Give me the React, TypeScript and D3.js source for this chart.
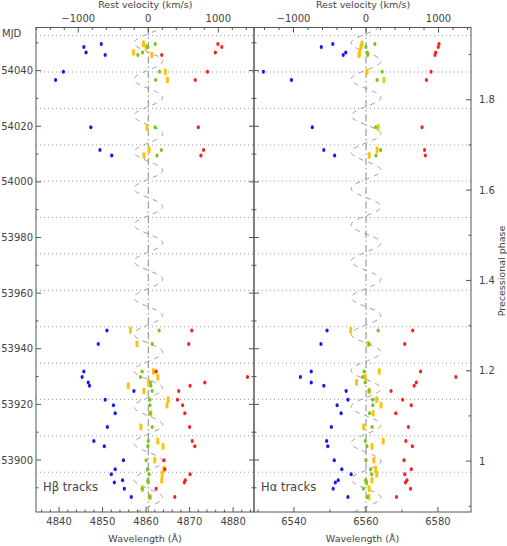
import * as d3 from 'd3';

// spectra epochs (MJD), newest first
const epochs = [54049.6, 54048.5, 54046.5, 54045.6, 54039.6, 54036.6, 54019.6, 54011.5, 54009.5,
  53946.6, 53941.7, 53931.8, 53929.8, 53927.9, 53926.7, 53924.8, 53921.7, 53919.7, 53916.8,
  53911.9, 53906.8, 53904.9, 53899.9, 53896.7, 53894.9, 53892.7, 53891.9, 53889.7, 53886.7];

// H-beta line components (wavelength, Angstrom)
const hbBlue = [4849.7, 4845.7, 4846.2, 4850.6, 4841.0, 4839.2, 4847.3, 4849.4, 4852.1,
  4851.0, 4849.0, 4845.7, 4845.3, 4846.7, 4847.0, 4857.2, 4850.6, 4852.5, 4852.9,
  4851.1, 4848.0, 4850.4, 4854.8, 4852.9, 4852.0, 4854.6, 4852.7, 4855.0, 4856.6];
const hbYellow = [4859.4, 4860.0, 4857.1, 4861.3, 4864.4, 4864.9, 4860.2, 4860.7, 4859.5,
  4856.4, 4857.9, 4861.7, 4862.7, 4860.6, 4855.9, 4859.5, 4865.1, 4864.8, 4861.1,
  4858.8, 4862.7, 4863.9, 4862.0, 4864.1, 4863.7, 4863.6, null, 4859.2, 4860.9];
const hbGreen = [4862.1, 4860.4, 4859.2, 4858.1, 4863.1, 4862.2, 4862.1, 4863.5, 4862.5,
  4863.0, 4861.4, 4859.1, 4858.7, 4861.0, 4861.1, 4861.4, 4860.9, 4860.9, 4860.9,
  4861.4, 4860.5, 4860.4, 4860.0, 4860.3, 4860.7, 4860.4, 4860.5, 4859.1, 4860.9];
const hbRed = [4876.5, 4877.4, 4875.9, 4863.6, 4874.1, 4871.3, 4872.0, 4873.2, 4872.6,
  4870.5, 4869.8, 4862.3, 4883.3, 4873.5, 4870.1, 4867.5, 4867.2, 4868.4, 4868.9,
  4870.0, 4870.6, 4871.2, 4864.1, 4864.3, 4870.1, 4869.0, 4868.8, 4862.3, 4866.6];

// H-alpha line components
const haBlue = [6550.8, 6547.6, 6554.4, 6553.7, 6531.5, 6539.3, 6545.1, 6548.3, 6551.3,
  6549.2, 6547.5, 6544.8, 6541.8, 6544.8, 6548.3, 6554.5, 6555.0, 6552.0, 6553.1,
  6550.4, 6549.1, 6549.4, 6551.2, 6553.3, 6555.9, 6552.3, 6551.5, 6550.9, 6555.0];
const haYellow = [6558.9, 6558.6, 6558.3, 6558.1, 6560.3, 6565.0, 6563.4, 6563.1, 6560.9,
  6555.8, 6560.6, 6563.7, 6559.8, 6557.4, null, 6560.9, 6563.0, 6564.2, 6562.0,
  6559.4, 6564.8, 6561.7, 6562.2, 6562.7, 6563.0, 6561.7, 6560.2, 6560.9, 6560.8];
const haGreen = [6562.5, 6560.0, 6560.4, 6560.5, 6564.5, 6563.1, 6562.7, 6564.1, 6562.8,
  6563.4, 6560.9, 6559.5, 6559.1, 6559.8, null, 6560.9, 6561.9, 6561.9, 6561.0,
  6561.7, 6559.8, 6560.3, 6560.0, 6561.3, 6561.6, 6559.9, 6560.1, 6559.3, 6560.4];
const haRed = [6580.3, 6580.1, 6579.4, 6579.2, 6578.1, 6576.8, 6575.6, 6576.3, 6576.5,
  6573.0, 6570.8, 6575.2, 6585.0, 6574.0, 6573.4, 6567.0, 6570.2, 6572.6, 6568.3,
  6571.8, 6571.1, 6572.9, 6570.6, 6572.6, 6570.8, 6571.4, 6571.0, 6572.4, 6568.5];

// eclipse times (orbital phase zero)
const eclipses = [53895.6, 53908.7, 53921.8, 53934.8, 53947.9, 53961.0, 53974.1, 53987.2,
  54000.3, 54013.3, 54026.4, 54039.5, 54052.6];

const mjdLabels = [53900, 53920, 53940, 53960, 53980, 54000, 54020, 54040];
const phaseLabels = [1, 1.2, 1.4, 1.6, 1.8];
const velLabels = [-1000, 0, 1000];
const hbLabels = [4840, 4850, 4860, 4870, 4880];
const haLabels = [6540, 6560, 6580];

const ORBIT_P = 13.08;
const ORBIT_T0 = 53895.6;
const ORBIT_K = 205; // km/s
const PREC_P = 162.4;
const PREC_ZERO = 53899.6; // precessional phase 1.0

const W = 507, H = 546;
const top = 27.5, bottom = 512;
const FONT = 'DejaVu Sans';
const TXT = '#444';
const AX = '#555';

const y = d3.scaleLinear().domain([53881.3, 54055.5]).range([bottom, top]);
const phaseY = (p: number) => y(PREC_ZERO + (p - 1) * PREC_P);

const COLORS = { blue: '#1414ff', yellow: '#ffc20a', green: '#72c61a', red: '#ff1c1c' };

function Panel(p: any) {
  const x = d3.scaleLinear().domain(p.lamDomain).range([p.x0, p.x1]);
  const v = d3.scaleLinear().domain(p.velDomain).range([p.x0, p.x1]);
  const lamMinor = d3.range(Math.ceil(p.lamDomain[0] / p.lamStep) * p.lamStep, p.lamDomain[1], p.lamStep);
  const velMinor = d3.range(Math.ceil(p.velDomain[0] / 200) * 200, p.velDomain[1], 200);
  const curveT = d3.range(y.domain()[0], y.domain()[1], 0.2);
  const curve = d3.line<number>()
    .x(t => v(ORBIT_K * Math.sin(2 * Math.PI * ((t - ORBIT_T0) / ORBIT_P - 0.05))))
    .y(t => y(t))(curveT);
  const mjdMinor = d3.range(53890, 54060, 10);

  const dots = (vals: (number | null)[], color: string, bar = false) =>
    vals.map((l, i) => l == null ? null : bar
      ? <rect key={i} x={x(l) - 1.5} y={y(epochs[i]) - 3.3} width={3} height={6.6} rx={1} fill={color} />
      : <ellipse key={i} cx={x(l)} cy={y(epochs[i])} rx={1.6} ry={2} fill={color} />);

  return (
    <g>
      {/* dotted eclipse lines */}
      {eclipses.map(e => (
        <line key={e} x1={p.x0} x2={p.x1} y1={y(e)} y2={y(e)} stroke="#999" strokeWidth={1} strokeDasharray="1 3" />
      ))}
      {/* rest line */}
      <line x1={v(0)} x2={v(0)} y1={top} y2={bottom} stroke="#888" strokeWidth={1} strokeDasharray="7 3 1.5 3" />
      <path d={curve || ''} fill="none" stroke="#999" strokeWidth={1} strokeDasharray="5 5" />

      {dots(p.yellow, COLORS.yellow, true)}
      {dots(p.green, COLORS.green)}
      {dots(p.blue, COLORS.blue)}
      {dots(p.red, COLORS.red)}

      {/* frame */}
      <rect x={p.x0} y={top} width={p.x1 - p.x0} height={bottom - top} fill="none" stroke={AX} strokeWidth={1} />

      {/* wavelength ticks */}
      {lamMinor.map(l => {
        const major = p.lamLabels.includes(Math.round(l));
        return <line key={'b' + l} x1={x(l)} x2={x(l)} y1={bottom} y2={bottom - (major ? 5 : 2.5)} stroke={AX} />;
      })}
      {p.lamLabels.map((l: number) => (
        <text key={'bl' + l} x={x(l)} y={525} textAnchor="middle" fontSize={10} fontFamily={FONT} fill={TXT}>{l}</text>
      ))}
      <text x={(p.x0 + p.x1) / 2} y={542} textAnchor="middle" fontSize={9.5} fontFamily={FONT} fill={TXT}>Wavelength (Å)</text>

      {/* velocity ticks */}
      {velMinor.map(vv => {
        const major = vv % 1000 === 0;
        return <line key={'t' + vv} x1={v(vv)} x2={v(vv)} y1={top} y2={top + (major ? 5 : 2.5)} stroke={AX} />;
      })}
      {velLabels.map(vv => (
        <text key={'tl' + vv} x={v(vv)} y={21.5} textAnchor="middle" fontSize={10} fontFamily={FONT} fill={TXT}>
          {vv < 0 ? '\u2212' + Math.abs(vv) : vv}
        </text>
      ))}
      <text x={v(0) - 3} y={8} textAnchor="middle" fontSize={9.5} fontFamily={FONT} fill={TXT}>Rest velocity (km/s)</text>

      {/* MJD ticks on both sides */}
      {mjdMinor.map(m => {
        const major = m % 20 === 0;
        const len = major ? 5 : 2.5;
        return (
          <g key={'m' + m}>
            {p.mjdLeft && <line x1={p.x0} x2={p.x0 + len} y1={y(m)} y2={y(m)} stroke={AX} />}
            {p.mjdRight && <line x1={p.x1} x2={p.x1 - len} y1={y(m)} y2={y(m)} stroke={AX} />}
          </g>
        );
      })}

      <text x={p.x0 + 7} y={491} fontSize={11.5} fontFamily={FONT} fill={TXT}>{p.label}</text>
    </g>
  );
}

export default function App() {
  const phaseMinor = d3.range(0.9, 2.0, 0.1);
  return (
    <svg width={W} height={H} style={{ position: 'absolute', left: 0, top: 0, background: '#fff' }}>
      <rect width={W} height={H} fill="#fff" />
      <Panel
        x0={36} x1={254}
        lamDomain={[4834.7, 4884.8]} velDomain={[-1604, 1510]} lamStep={2}
        lamLabels={hbLabels}
        blue={hbBlue} yellow={hbYellow} green={hbGreen} red={hbRed}
        mjdLeft mjdRight label="Hβ  tracks"
      />
      <Panel
        x0={254} x1={471}
        lamDomain={[6528.9, 6589.2]} velDomain={[-1545, 1448]} lamStep={10}
        lamLabels={haLabels}
        blue={haBlue} yellow={haYellow} green={haGreen} red={haRed}
        mjdLeft mjdRight={false} label="Hα  tracks"
      />

      {/* MJD labels */}
      {mjdLabels.map(m => (
        <text key={m} x={33} y={y(m) + 3.6} textAnchor="end" fontSize={10} fontFamily={FONT} fill={TXT}>{m}</text>
      ))}
      <text x={2} y={36.5} fontSize={10} fontFamily={FONT} fill={TXT}>MJD</text>

      {/* precessional phase axis */}
      {phaseMinor.map(ph => {
        const major = Math.abs(ph * 5 - Math.round(ph * 5)) < 1e-6;
        return <line key={ph} x1={471} x2={471 - (major ? 5 : 2.5)} y1={phaseY(ph)} y2={phaseY(ph)} stroke={AX} />;
      })}
      {phaseLabels.map(ph => (
        <text key={ph} x={479} y={phaseY(ph) + 3.6} fontSize={10} fontFamily={FONT} fill={TXT}>{ph}</text>
      ))}
      <text transform={`translate(505,271) rotate(-90)`} textAnchor="middle" fontSize={9.5} fontFamily={FONT} fill={TXT}>
        Precessional phase
      </text>
    </svg>
  );
}
